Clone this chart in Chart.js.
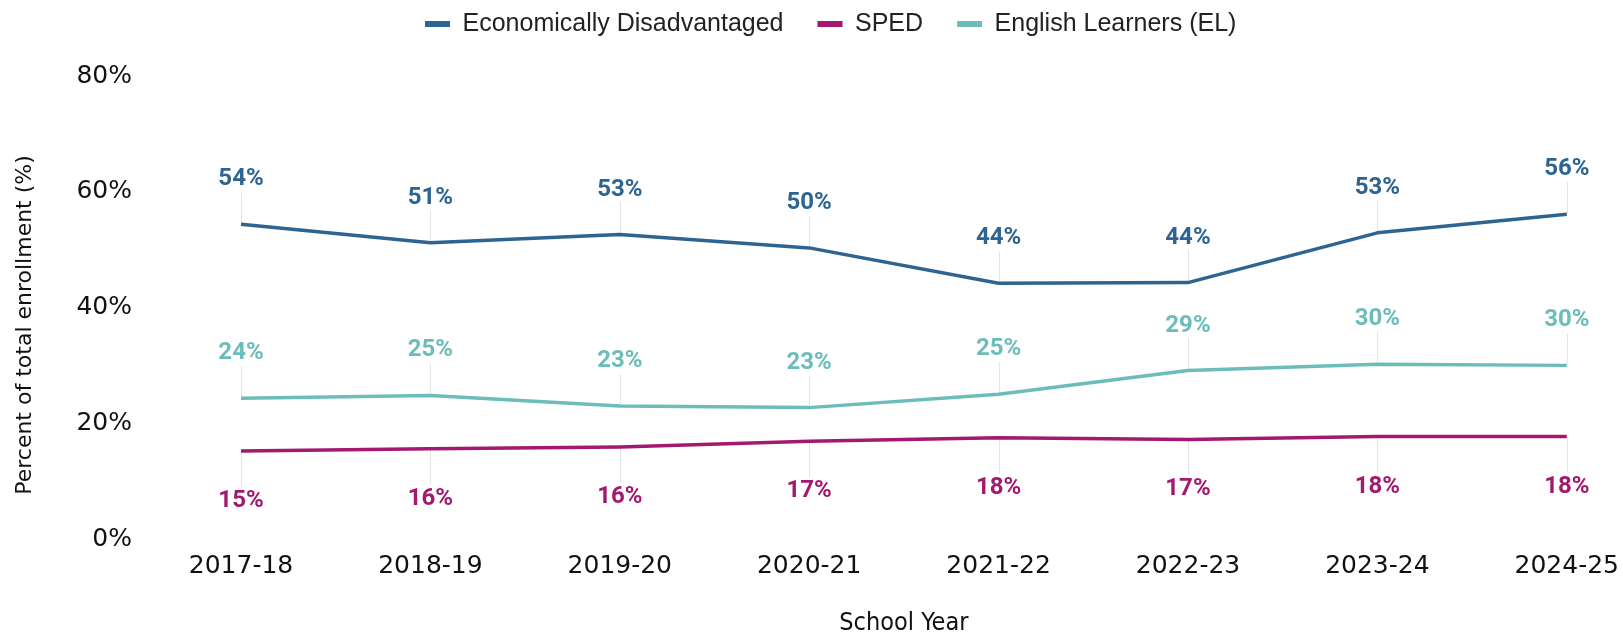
<!DOCTYPE html>
<html>
<head>
<meta charset="utf-8">
<title>Enrollment by student group</title>
<script src="https://cdn.jsdelivr.net/npm/chart.js@4.4.1/dist/chart.umd.min.js"></script>
<style>
  html, body { margin: 0; padding: 0; background: #fff; }
  canvas { display: block; }
</style>
</head>
<body>
<canvas id="enrollmentChart" width="1623" height="635"></canvas>
<script>
// School years on the x axis
const schoolYears = ['2017-18', '2018-19', '2019-20', '2020-21', '2021-22', '2022-23', '2023-24', '2024-25'];

// Percent of total enrollment per group
const econDisadvantaged = [54.4, 51.2, 52.6, 50.3, 44.2, 44.3, 52.9, 56.1];
const sped = [15.2, 15.6, 15.9, 16.9, 17.5, 17.2, 17.7, 17.7];
const englishLearners = [24.3, 24.8, 23.0, 22.7, 25.0, 29.1, 30.2, 30.0];

// y axis ticks
const yTicks = [0, 20, 40, 60, 80];

const COLORS = {
  econ: '#2d6491',
  sped: '#a3196f',
  el: '#6cbdba'
};

// value labels with a thin leader line down (or up) to the point
const pointLabels = {
  id: 'pointLabels',
  beforeDatasetsDraw(chart) {
    const ctx = chart.ctx;
    ctx.save();
    ctx.strokeStyle = '#e4e4e4';
    ctx.lineWidth = 1;
    chart.data.datasets.forEach((ds, i) => {
      const meta = chart.getDatasetMeta(i);
      meta.data.forEach(pt => {
        const above = ds.labelSide === 'above';
        const end = above ? pt.y - 32 : pt.y + 36;
        ctx.beginPath();
        ctx.moveTo(Math.round(pt.x) + 0.5, pt.y);
        ctx.lineTo(Math.round(pt.x) + 0.5, end);
        ctx.stroke();
      });
    });
    ctx.restore();
  },
  afterDatasetsDraw(chart) {
    const ctx = chart.ctx;
    ctx.save();
    ctx.font = 'bold 24px Roboto';
    ctx.textAlign = 'center';
    ctx.textBaseline = 'middle';
    chart.data.datasets.forEach((ds, i) => {
      const meta = chart.getDatasetMeta(i);
      ctx.fillStyle = ds.borderColor;
      meta.data.forEach((pt, j) => {
        const y = ds.labelSide === 'above' ? pt.y - 45 : pt.y + 50;
        ctx.fillText(Math.round(ds.data[j]) + '%', pt.x, y);
      });
    });
    ctx.restore();
  }
};

// move the legend row up and to the left once layout is done
const legendNudge = {
  id: 'legendNudge',
  afterLayout(chart) {
    const lg = chart.legend;
    if (!lg) return;
    const dx = 391 - lg.left;
    lg.left += dx;
    lg.right += dx;
    const dy = -22.5 - lg.top;
    lg.top += dy;
    lg.bottom += dy;
  }
};

new Chart(document.getElementById('enrollmentChart'), {
  type: 'line',
  data: {
    labels: schoolYears,
    datasets: [
      {
        label: 'Economically Disadvantaged',
        data: econDisadvantaged,
        borderColor: COLORS.econ,
        backgroundColor: COLORS.econ,
        labelSide: 'above'
      },
      {
        label: 'SPED',
        data: sped,
        borderColor: COLORS.sped,
        backgroundColor: COLORS.sped,
        labelSide: 'below'
      },
      {
        label: 'English Learners (EL)',
        data: englishLearners,
        borderColor: COLORS.el,
        backgroundColor: COLORS.el,
        labelSide: 'above'
      }
    ]
  },
  options: {
    responsive: false,
    animation: false,
    devicePixelRatio: 1,
    layout: {
      padding: { top: 7, left: 8, right: 56, bottom: 0 }
    },
    elements: {
      line: { borderWidth: 3.5, tension: 0, borderJoinStyle: 'round', fill: false },
      point: { radius: 0, hoverRadius: 0 }
    },
    plugins: {
      legend: {
        display: true,
        position: 'top',
        align: 'start',
        labels: {
          boxWidth: 25,
          boxHeight: 6,
          padding: 34,
          color: '#222',
          font: { family: '"Liberation Sans", Arial, sans-serif', size: 25 },
          generateLabels(chart) {
            const items = Chart.defaults.plugins.legend.labels.generateLabels(chart);
            items.forEach(it => { it.lineWidth = 0; it.fillStyle = it.strokeStyle; });
            return items;
          }
        }
      },
      tooltip: { enabled: false }
    },
    scales: {
      x: {
        offset: false,
        grid: { display: false },
        border: { display: false },
        afterFit(scale) {
          scale.height = 96;
        },
        ticks: {
          autoSkip: false,
          maxRotation: 0,
          padding: 4,
          color: '#111',
          font: { family: '"DejaVu Sans", sans-serif', size: 25 }
        },
        title: {
          display: true,
          text: 'School Year',
          color: '#111',
          padding: { top: 29, bottom: -3 },
          font: { family: '"DejaVu Sans Condensed", "DejaVu Sans", sans-serif', size: 25 }
        }
      },
      y: {
        min: 0,
        max: 80,
        grid: { display: false },
        border: { display: false },
        afterBuildTicks(scale) {
          scale.ticks = yTicks.map(v => ({ value: v }));
        },
        afterFit(scale) {
          // wide gap between tick labels and plot, without the
          // large tick padding also reserving space above/below
          scale.width = 233;
          scale.paddingTop = 15;
          scale.paddingBottom = 15;
        },
        ticks: {
          padding: 101,
          color: '#111',
          font: { family: '"DejaVu Sans", sans-serif', size: 25 },
          callback: v => v + '%'
        },
        title: {
          display: true,
          // trailing spaces push the centred title slightly down
          text: 'Percent of total enrollment (%)' + ' '.repeat(5),
          color: '#111',
          padding: { top: 4, bottom: 10 },
          font: { family: '"DejaVu Sans", sans-serif', size: 22 }
        }
      }
    }
  },
  plugins: [pointLabels, legendNudge]
});
</script>
</body>
</html>
